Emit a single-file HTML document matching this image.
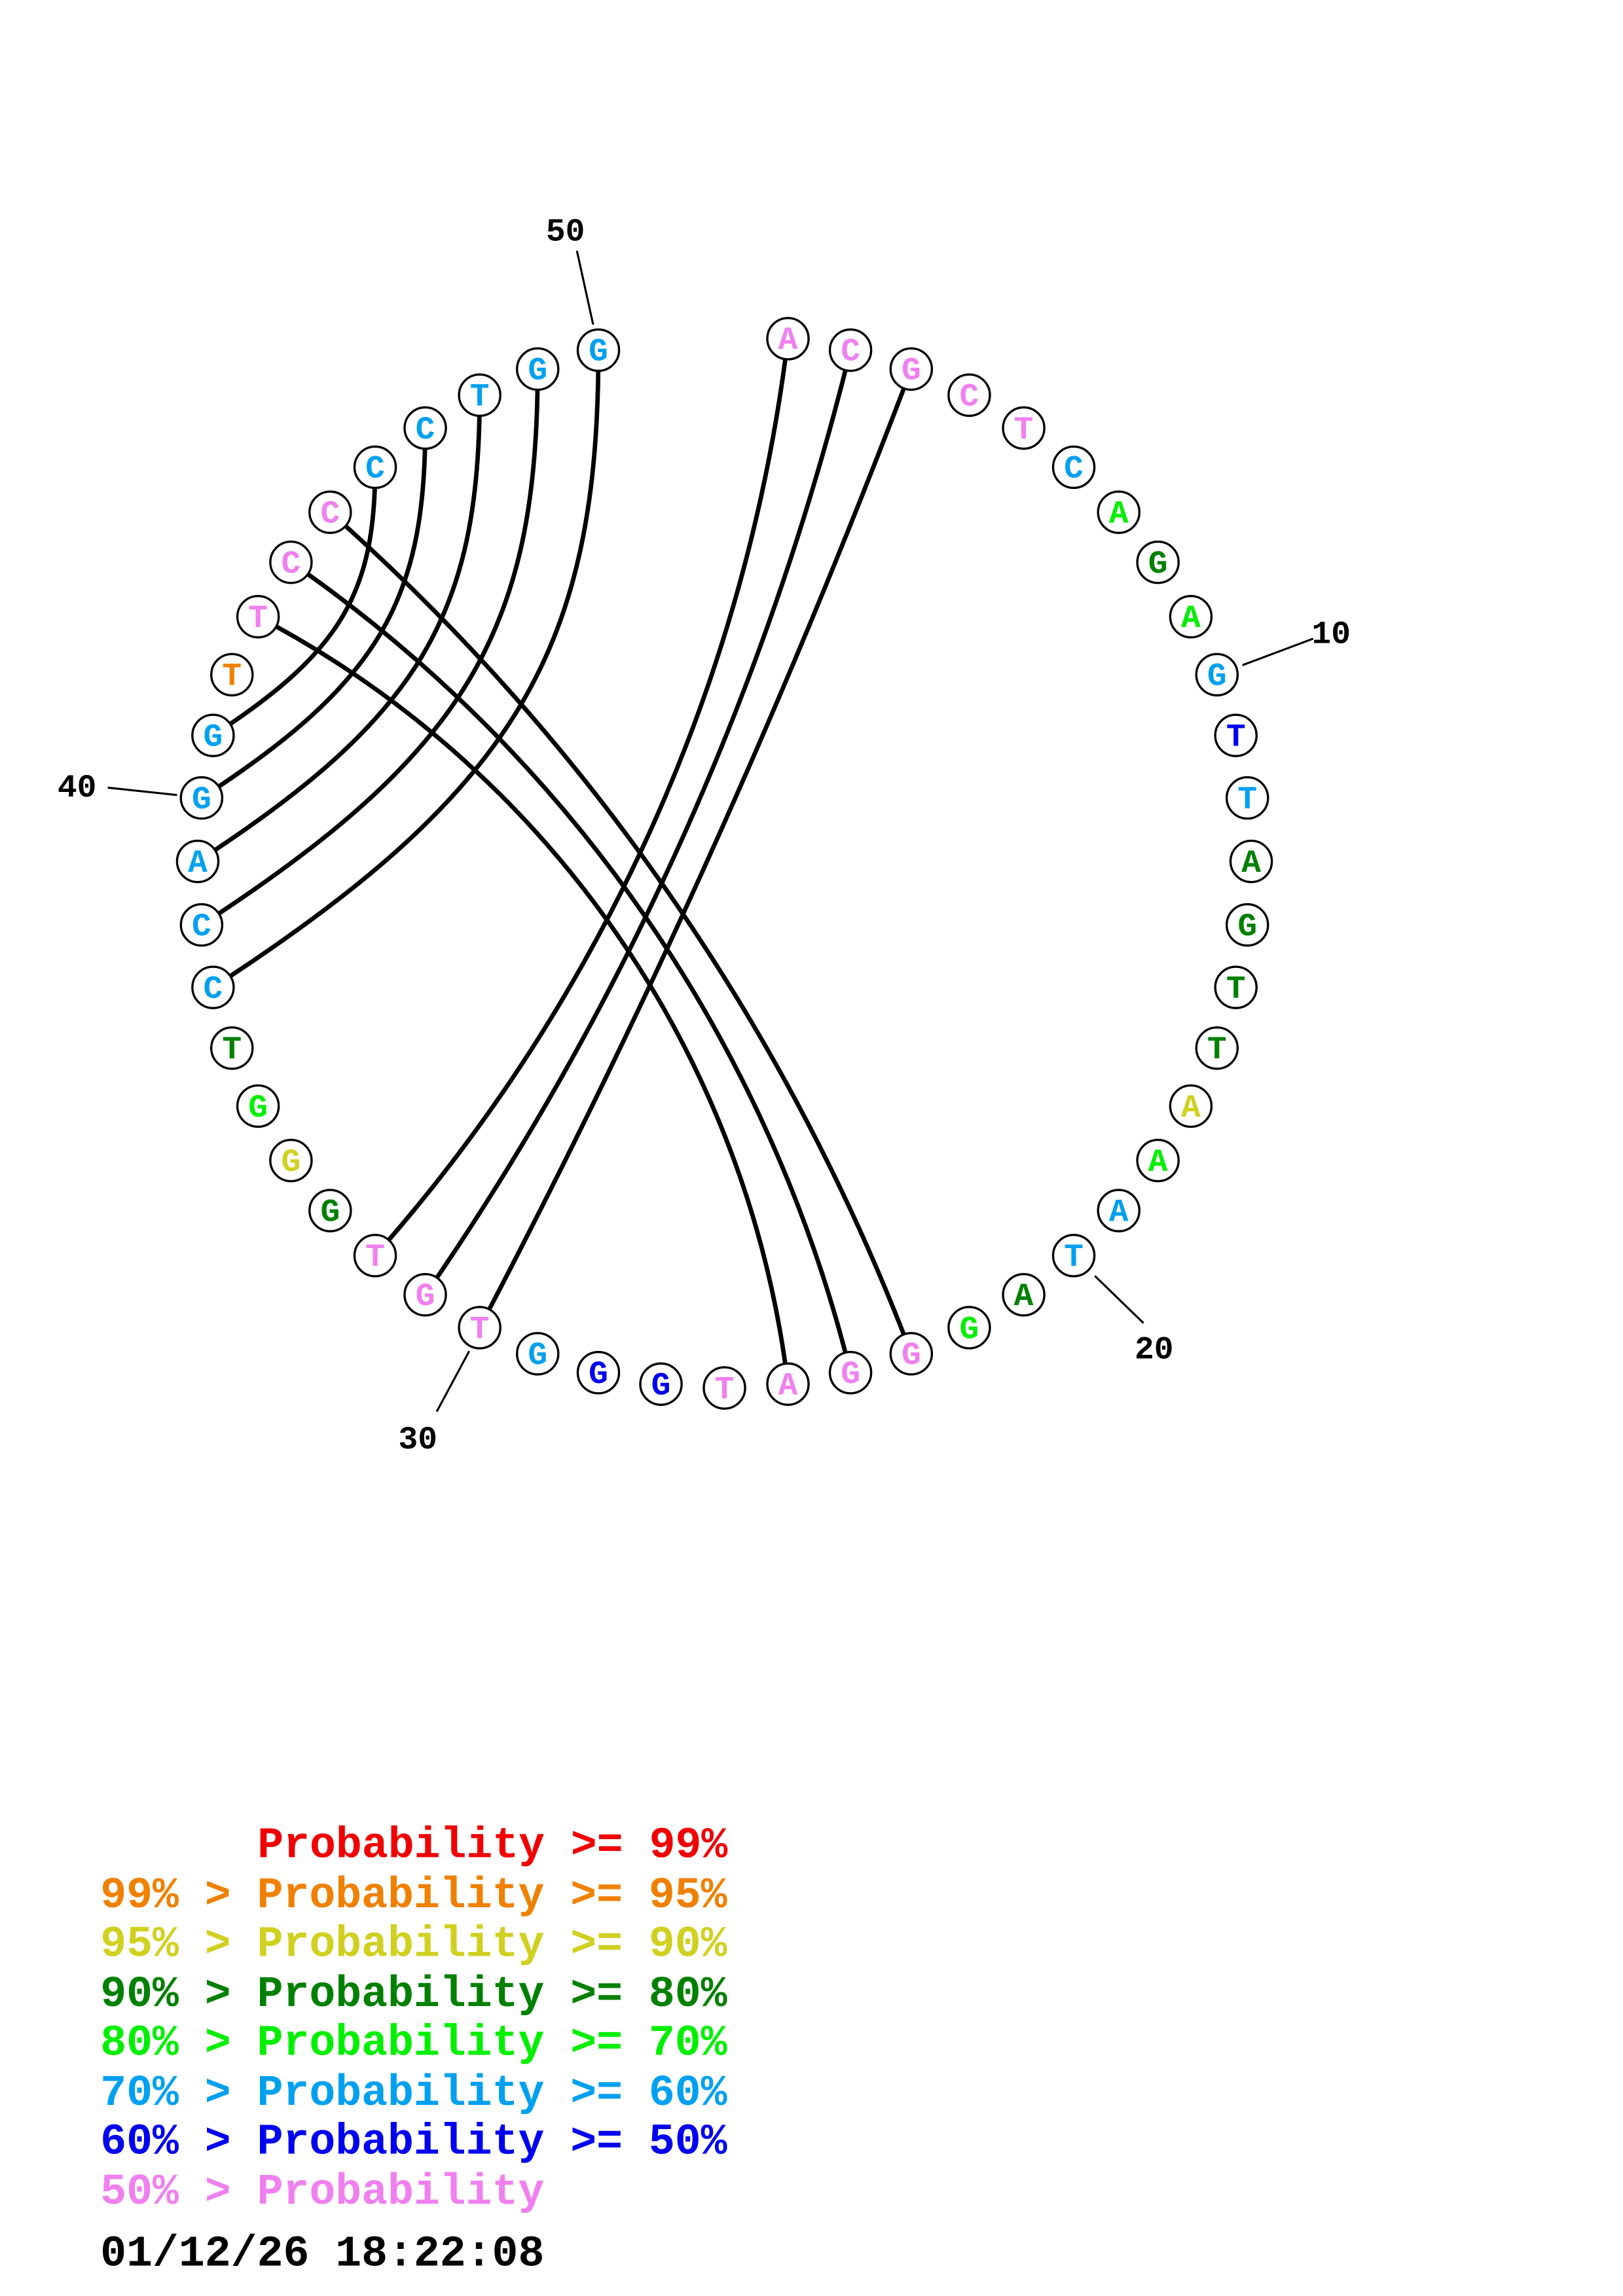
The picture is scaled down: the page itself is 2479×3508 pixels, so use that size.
<!DOCTYPE html>
<html><head><meta charset="utf-8"><style>
html,body{margin:0;padding:0;background:#fff;}
svg{display:block;}
</style></head><body>
<svg id="s" xmlns="http://www.w3.org/2000/svg" width="2479" height="3508" viewBox="0 0 1100 1556.6">
<rect width="1100" height="1556.6" fill="#fff"/>
<g transform="translate(-3,-4)">
<g id="arcs" fill="none" stroke="#000" stroke-width="3"></g>
<g stroke="#000" stroke-width="1.4">
<line x1="845" y1="455" x2="893" y2="437"/>
<line x1="745" y1="869" x2="778" y2="901"/>
<line x1="321" y1="920" x2="299" y2="961"/>
<line x1="123" y1="543" x2="76" y2="538"/>
<line x1="405" y1="224" x2="394" y2="174"/>
</g>
<g font-family="Liberation Mono, monospace" font-weight="bold" font-size="22" fill="#000">
<text x="892" y="440">10</text>
<text x="772" y="925">20</text>
<text x="273" y="986">30</text>
<text x="42" y="544">40</text>
<text x="373" y="167">50</text>
</g>
<g id="nts"></g>
</g>
<g font-family="Liberation Mono, monospace" font-weight="bold" font-size="29.5">
<text x="174.5" y="1259" fill="#f00000">Probability &gt;= 99%</text>
<text x="68" y="1293" fill="#f08000">99% &gt; Probability &gt;= 95%</text>
<text x="68" y="1326" fill="#d0d020">95% &gt; Probability &gt;= 90%</text>
<text x="68" y="1360" fill="#008000">90% &gt; Probability &gt;= 80%</text>
<text x="68" y="1393" fill="#00f000">80% &gt; Probability &gt;= 70%</text>
<text x="68" y="1427" fill="#00a0f0">70% &gt; Probability &gt;= 60%</text>
<text x="68" y="1460" fill="#0000f0">60% &gt; Probability &gt;= 50%</text>
<text x="68" y="1494" fill="#f080f0">50% &gt; Probability</text>
<text x="68" y="1536" fill="#000">01/12/26 18:22:08</text>
</g>
</svg>
<script>
var seq="ACGCTCAGAGTTAGTTAAATAGGGATGGGTGTGGGTCCAGGTTCCCCTGG";
var P="#f080f0",L="#00a0f0",D="#008000",B="#00f000",Y="#d0d020",O="#f08000",N="#0000f0";
var col=[P,P,P,P,P,L,B,D,B,L,N,L,D,D,D,D,Y,B,L,L,D,B,P,P,P,P,N,N,L,P,P,P,D,Y,B,D,L,L,L,L,L,O,P,P,P,L,L,L,L,L];
var cx=494,cy=588,R=357,step=2*Math.PI/52;
function pos(i){var a=i*step;return [cx+R*Math.sin(a),cy-R*Math.cos(a),a];}
var pairs=[[1,32],[2,31],[3,30],[23,45],[24,44],[25,43]];
var ul=[[37,50],[38,49],[39,48],[40,47],[41,46]];
var ns="http://www.w3.org/2000/svg";
var ag=document.getElementById("arcs");
function add(path){var e=document.createElementNS(ns,"path");e.setAttribute("d",path);ag.appendChild(e);}
pairs.forEach(function(p){
 var A=pos(p[0]),Bp=pos(p[1]);
 var d=Math.abs(A[2]-Bp[2]); if(d>Math.PI) d=2*Math.PI-d;
 var h=d/2;
 var mx=(A[0]+Bp[0])/2-cx,my=(A[1]+Bp[1])/2-cy,ml=Math.sqrt(mx*mx+my*my);
 var dist=R/Math.cos(h),r=R*Math.tan(h);
 var Cx=cx+mx/ml*dist,Cy=cy+my/ml*dist;
 var cr=(A[0]-Cx)*(Bp[1]-Cy)-(A[1]-Cy)*(Bp[0]-Cx);
 var sw=cr>0?1:0;
 add("M"+A[0]+" "+A[1]+" A"+r+" "+r+" 0 0 "+sw+" "+Bp[0]+" "+Bp[1]);
});
var ang=33*Math.PI/180,t33=Math.tan(ang),k=0.78;
ul.forEach(function(p){
 var lo=pos(p[0]),up=pos(p[1]);
 var kx=up[0],ky=lo[1]-t33*(up[0]-lo[0]);
 var p1x=lo[0]+k*(kx-lo[0]),p1y=lo[1]+k*(ky-lo[1]);
 var p2x=up[0],p2y=up[1]+k*(ky-up[1]);
 add("M"+lo[0]+" "+lo[1]+" C"+p1x+" "+p1y+" "+p2x+" "+p2y+" "+up[0]+" "+up[1]);
});
var ng=document.getElementById("nts");
for(var i=1;i<=50;i++){
 var q=pos(i);
 var c=document.createElementNS(ns,"circle");
 c.setAttribute("cx",q[0]);c.setAttribute("cy",q[1]);c.setAttribute("r",14);
 c.setAttribute("fill","#fff");c.setAttribute("stroke","#000");c.setAttribute("stroke-width","1.5");
 ng.appendChild(c);
 var t=document.createElementNS(ns,"text");
 t.setAttribute("x",q[0]);t.setAttribute("y",q[1]+7);
 t.setAttribute("text-anchor","middle");t.setAttribute("font-family","Liberation Mono, monospace");
 t.setAttribute("font-weight","bold");t.setAttribute("font-size","22");t.setAttribute("fill",col[i-1]);
 t.textContent=seq[i-1];ng.appendChild(t);
}
</script>
</body></html>
